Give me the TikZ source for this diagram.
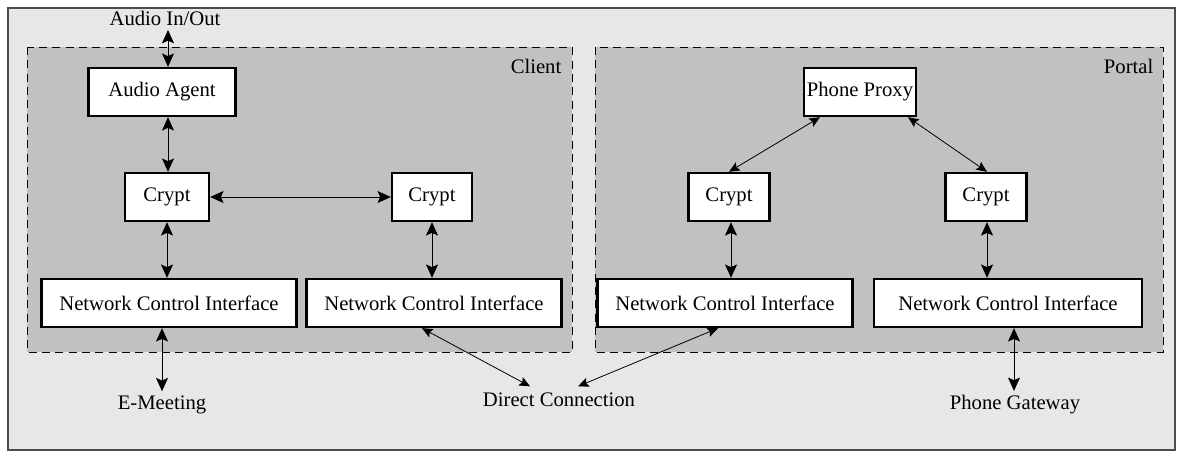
\documentclass[tikz,border=0pt]{standalone}
\usepackage{fontspec}
\setmainfont{Liberation Serif}
\usetikzlibrary{arrows.meta,calc}

\definecolor{outerbg}{HTML}{E6E7E7}
\definecolor{zonebg}{HTML}{C0C1C2}

\tikzset{
  compbox/.style={draw, line width=1.8pt, fill=white, minimum height=36pt, inner sep=2pt},
  biarrow/.style={{Stealth[length=10pt,width=9pt,inset=2pt]}-{Stealth[length=10pt,width=9pt,inset=2pt]}, line width=0.6pt},
  diagarrow/.style={{Stealth[length=8pt,width=7pt,inset=1.5pt]}-{Stealth[length=8pt,width=7pt,inset=1.5pt]}, line width=0.6pt},
  zone/.style={draw, dashed, dash pattern=on 6pt off 4pt, fill=zonebg, line width=0.5pt}
}

\begin{document}
\begin{tikzpicture}[x=0.75pt, y=-0.75pt, font=\fontsize{15.5}{18}\selectfont]
  \useasboundingbox (0,0) rectangle (1183,458);
  % background and zones
  \draw[fill=outerbg, draw=black!70, line width=0.8pt] (8,8) rectangle (1175,450);
  \draw[zone] (27,47) rectangle (572,352);
  \draw[zone] (595,47) rectangle (1163,352);
  \node[anchor=east] (client) at (566,66) {Client};
  \node[anchor=east] (portal) at (1158,66) {Portal};

  % client side
  \node (audioio) at (165,18) {Audio In/Out};
  \node[compbox, minimum width=110pt] (agent) at (162,92) {Audio Agent};
  \node[compbox, minimum width=63pt] (crypta) at (167,197) {Crypt};
  \node[compbox, minimum width=60pt] (cryptb) at (432,197) {Crypt};
  \node[compbox, minimum width=191pt] (ncia) at (169,303) {Network Control Interface};
  \node[compbox, minimum width=191pt] (ncib) at (434,303) {Network Control Interface};
  \node (emeet) at (162,405) {E-Meeting};
  \node (direct) at (559,400) {Direct Connection};

  % portal side
  \node[compbox, minimum width=75pt] (proxy) at (860,92) {Phone Proxy};
  \node[compbox, minimum width=61pt] (cryptc) at (729,197) {Crypt};
  \node[compbox, minimum width=61pt] (cryptd) at (986,197) {Crypt};
  \node[compbox, minimum width=191pt] (ncic) at (725,303) {Network Control Interface};
  \node[compbox, minimum width=201pt] (ncid) at (1008,303) {Network Control Interface};
  \node (gateway) at (1015,405) {Phone Gateway};

  % anchor points of the vertical links
  \coordinate (ain) at ($(agent.north)+(6,0)$);
  \coordinate (aout) at ($(agent.south)+(6,0)$);
  \coordinate (eup) at ($(ncia.south)+(-7,0)$);
  \coordinate (cdown) at ($(cryptc.south)+(2,0)$);
  \coordinate (ddown) at ($(cryptd.south)+(1,0)$);
  \coordinate (gup) at ($(ncid.south)+(6,0)$);

  % connections
  \draw[biarrow] (ain |- audioio.south) -- (ain);
  \draw[biarrow] (aout) -- (aout |- crypta.north);
  \draw[biarrow] (crypta) -- (cryptb);
  \draw[biarrow] (crypta.south) -- (crypta.south |- ncia.north);
  \draw[biarrow] (cryptb.south) -- (cryptb.south |- ncib.north);
  \draw[biarrow] (eup) -- (eup |- emeet.north);
  \draw[diagarrow] ($(ncib.south)+(-12,0)$) -- ($(direct.north)+(-29,-2)$);
  \draw[diagarrow] ($(ncic.south)+(-7,0)$) -- ($(direct.north)+(19,-2)$);
  \draw[diagarrow] ($(proxy.south)+(-40,0)$) -- (cryptc.north);
  \draw[diagarrow] ($(proxy.south)+(48,0)$) -- ($(cryptd.north)+(1,0)$);
  \draw[biarrow] (cdown) -- (cdown |- ncic.north);
  \draw[biarrow] (ddown) -- (ddown |- ncid.north);
  \draw[biarrow] (gup) -- (gup |- gateway.north);
\end{tikzpicture}
\end{document}
